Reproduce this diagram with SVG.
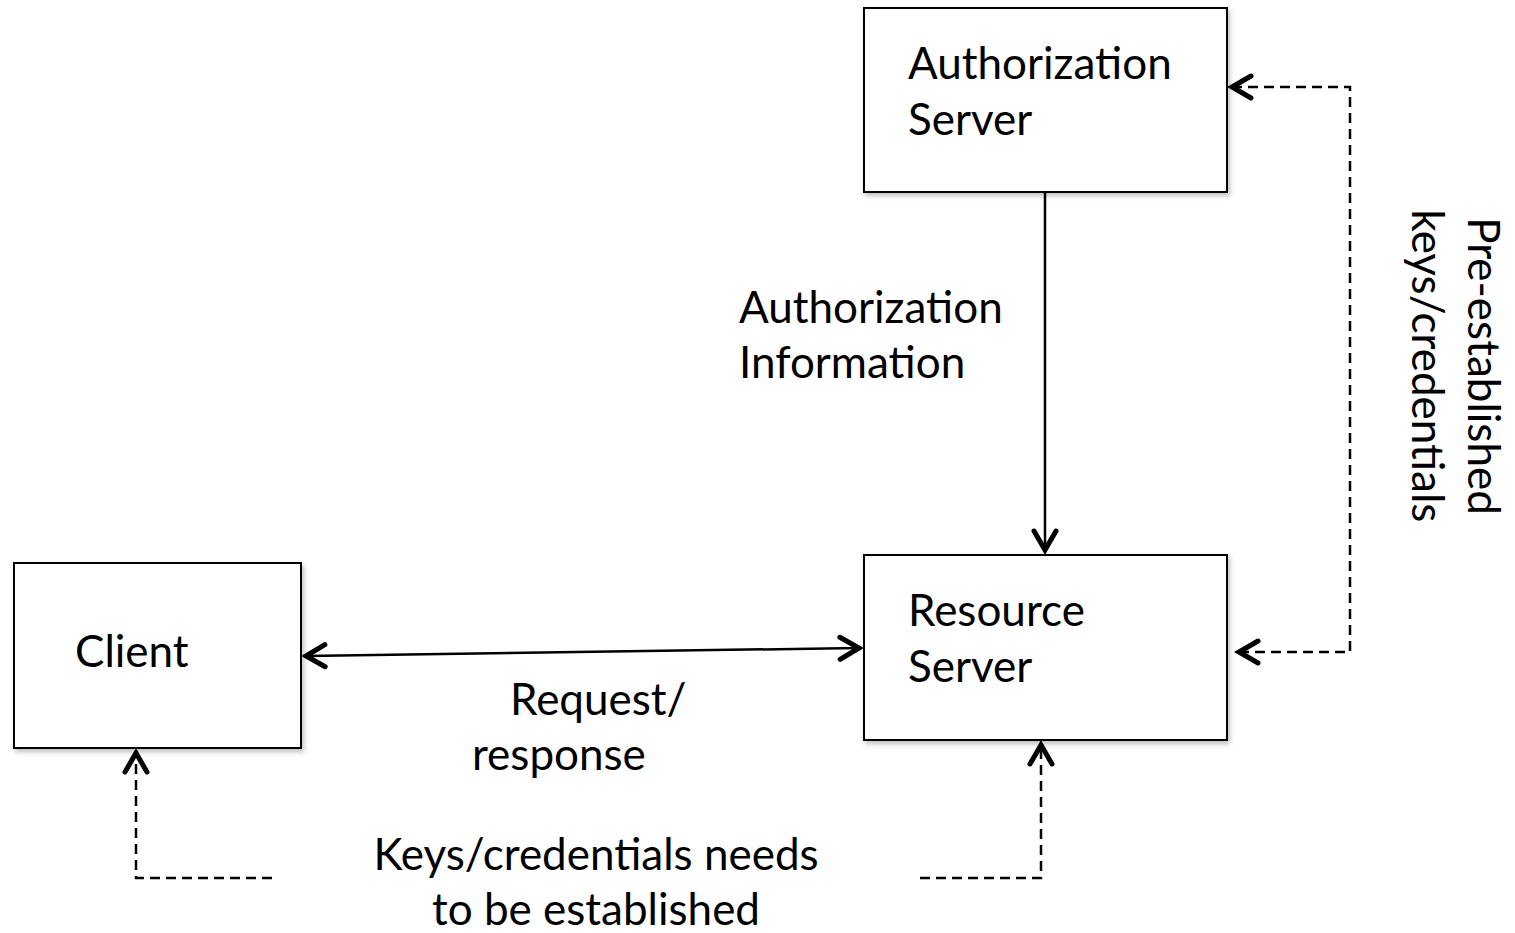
<svg xmlns="http://www.w3.org/2000/svg" width="1515" height="933" viewBox="0 0 1515 933">
<style>
.box{fill:#fff;stroke:#000;stroke-width:2;filter:url(#sh)}
.t{font-family:Lato,"Open Sans",sans-serif;font-size:44px;fill:#000}
.ln{fill:none;stroke:#000;stroke-width:2.5}
.dash{fill:none;stroke:#000;stroke-width:2.5;stroke-dasharray:10 6}
</style>
<defs>
<filter id="sh" x="-10%" y="-10%" width="120%" height="130%">
<feDropShadow dx="2" dy="3" stdDeviation="2.5" flood-color="#000" flood-opacity="0.25"/>
</filter>
<marker id="ah" markerUnits="userSpaceOnUse" viewBox="-26 -16 32 32" refX="0" refY="0" markerWidth="32" markerHeight="32" orient="auto-start-reverse">
<path d="M-19,-11 L0,0 L-19,11" fill="none" stroke="#000" stroke-width="5" stroke-linecap="round" stroke-linejoin="miter"/>
</marker>
</defs>
<rect width="1515" height="933" fill="#fff"/>
<g id="auth-server">
<rect class="box" x="864" y="8" width="363" height="184"/>
<text class="t" x="908" y="79">Authorization</text>
<text class="t" x="908" y="135">Server</text>
</g>
<g id="resource-server">
<rect class="box" x="864" y="555" width="363" height="185"/>
<text class="t" x="908" y="626">Resource</text>
<text class="t" x="908" y="682">Server</text>
</g>
<g id="client">
<rect class="box" x="14" y="563" width="287" height="185"/>
<text class="t" x="75" y="667">Client</text>
</g>
<g id="connectors">
<line class="ln" x1="1045" y1="193" x2="1045" y2="550" marker-end="url(#ah)"/>
<line class="ln" x1="306" y1="656" x2="859" y2="648" marker-start="url(#ah)" marker-end="url(#ah)"/>
<polyline class="dash" points="1232,87 1350,87 1350,652 1239,652" marker-start="url(#ah)" marker-end="url(#ah)"/>
<polyline class="dash" points="272,878 136,878 136,753" marker-end="url(#ah)"/>
<polyline class="dash" points="920,878 1041,878 1041,745" marker-end="url(#ah)"/>
</g>
<g id="labels">
<text class="t" x="739" y="323">Authorization</text>
<text class="t" x="739" y="378">Information</text>
<text class="t" x="510" y="715">Request/</text>
<text class="t" x="472" y="770">response</text>
<text class="t" x="596" y="870" text-anchor="middle">Keys/credentials needs</text>
<text class="t" x="596" y="925" text-anchor="middle">to be established</text>
<g transform="translate(1468,366) rotate(90)">
<text class="t" x="0" y="0" text-anchor="middle">Pre-established</text>
<text class="t" x="0" y="56" text-anchor="middle">keys/credentials</text>
</g>
</g>
</svg>
